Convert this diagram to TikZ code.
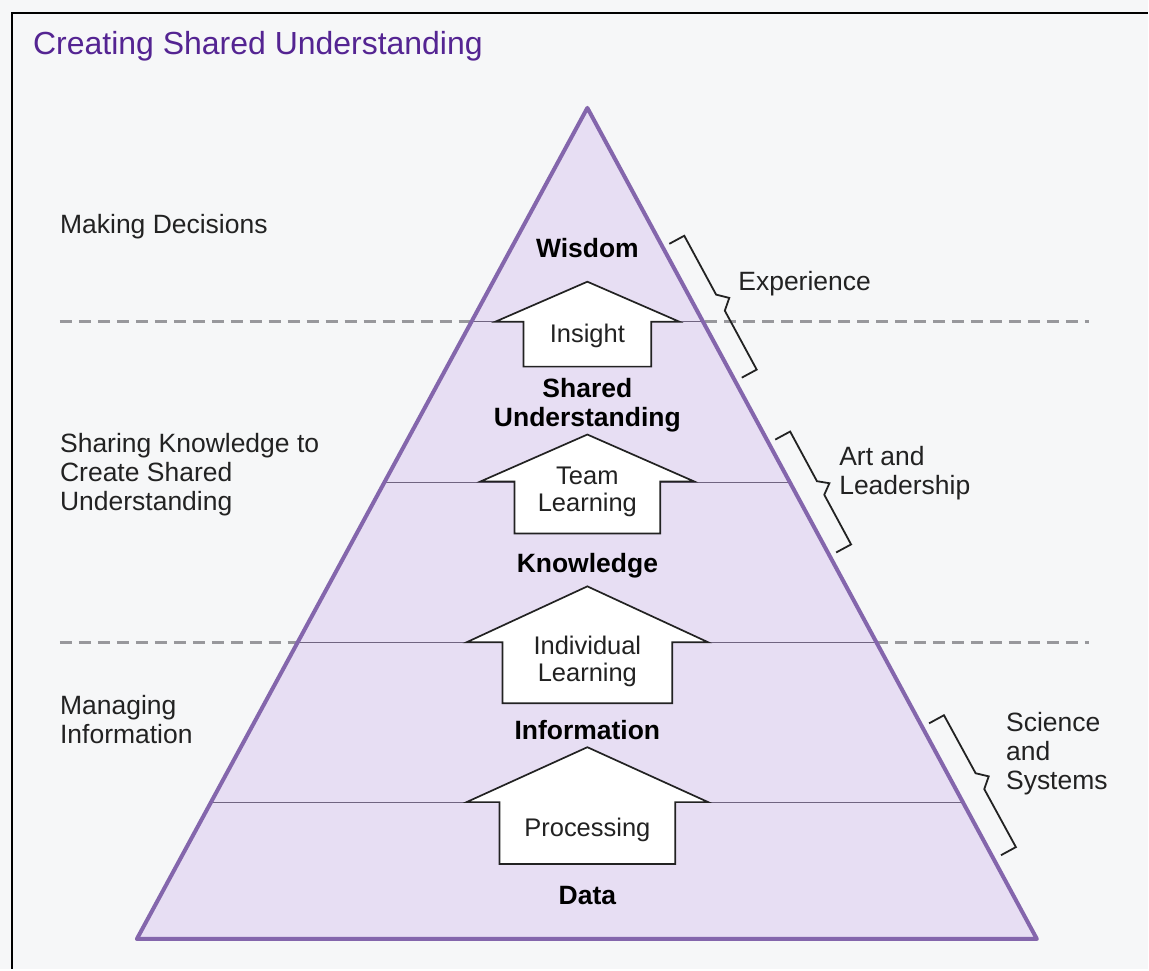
\documentclass[tikz,border=0pt]{standalone}
\usepackage{fontspec}
\setmainfont{Liberation Sans}
\usetikzlibrary{calc}

\definecolor{pagebg}{RGB}{246,247,248}
\definecolor{pyrfill}{RGB}{231,222,243}
\definecolor{pyredge}{RGB}{132,102,172}
\definecolor{titlepurple}{RGB}{84,36,146}
\definecolor{dashgray}{RGB}{152,152,156}
\definecolor{levelgray}{RGB}{112,100,128}
\definecolor{inkgray}{RGB}{34,34,34}

% bracket along the right edge of the pyramid
\newcommand{\edgebrace}[2]{%
  \draw[bracket] ($(#1)!17pt!-90:(#2)$) -- (#1) -- ($(#1)!0.44!(#2)$)
    -- ($(#1)!0.5!(#2)!10pt!90:(#2)$) -- ($(#1)!0.56!(#2)$) -- (#2)
    -- ($(#2)!17pt!90:(#1)$);}

\begin{document}
\begin{tikzpicture}[x=1pt,y=-1pt,
  side/.style={font=\fontsize{26.5}{29}\selectfont, text=inkgray, inner sep=0pt, align=left, anchor=base west},
  level/.style={font=\fontsize{26.5}{29}\selectfont\bfseries, text=black, inner sep=0pt, align=center, anchor=base},
  step text/.style={font=\fontsize{25.5}{27}\selectfont, text=inkgray, inner sep=0pt, align=center, anchor=base},
  uparrow/.style={draw=inkgray, fill=white, line width=1.7pt, line join=miter},
  bracket/.style={draw=inkgray, line width=1.8pt, line join=miter},
  dashline/.style={draw=dashgray, line width=3pt, dash pattern=on 12pt off 7pt},
  levelline/.style={draw=levelgray, line width=1.1pt}]

  \fill[pagebg] (0,0) rectangle (1149,970);
  \draw[line width=2.5pt] (12,970) -- (12,13) -- (1149,13);

  \node[font=\fontsize{32}{36}\selectfont, text=titlepurple, inner sep=0pt, anchor=base west] (title) at (33,55) {Creating Shared Understanding};

  \draw[dashline] (60,322) -- (1090,322);
  \draw[dashline] (60,643) -- (1090,643);

  \coordinate (apex) at (588,108);
  \coordinate (baseL) at (137,940);
  \coordinate (baseR) at (1038,940);
  \fill[pyrfill] (apex) -- (baseR) -- (baseL) -- cycle;

  \coordinate (l1) at ($(apex)!0.2572!(baseL)$);
  \coordinate (r1) at ($(apex)!0.2572!(baseR)$);
  \coordinate (l2) at ($(apex)!0.4507!(baseL)$);
  \coordinate (r2) at ($(apex)!0.4507!(baseR)$);
  \coordinate (l3) at ($(apex)!0.6430!(baseL)$);
  \coordinate (r3) at ($(apex)!0.6430!(baseR)$);
  \coordinate (l4) at ($(apex)!0.8353!(baseL)$);
  \coordinate (r4) at ($(apex)!0.8353!(baseR)$);
  \draw[levelline] (l1) -- (r1);
  \draw[levelline] (l2) -- (r2);
  \draw[levelline] (l3) -- (r3);
  \draw[levelline] (l4) -- (r4);

  \draw[draw=pyredge, line width=4pt, line join=round] (apex) -- (baseR) -- (baseL) -- cycle;

  % the four steps
  \draw[uparrow] (588,282) -- (680,322) -- (652,322) -- (652,367) -- (524,367) -- (524,322) -- (496,322) -- cycle;
  \draw[uparrow] (588,435) -- (695,482) -- (661,482) -- (661,534) -- (515,534) -- (515,482) -- (481,482) -- cycle;
  \draw[uparrow] (588,587) -- (709,643) -- (673,643) -- (673,704) -- (503,704) -- (503,643) -- (467,643) -- cycle;
  \draw[uparrow] (588,748) -- (709,803) -- (676,803) -- (676,865) -- (500,865) -- (500,803) -- (467,803) -- cycle;

  \node[step text] (insight) at (588,343) {Insight};
  \node[step text] (team) at (588,512) {Team\\Learning};
  \node[step text] (individual) at (588,682) {Individual\\Learning};
  \node[step text] (processing) at (588,837) {Processing};

  \node[level] (wisdom) at (588,258) {Wisdom};
  \node[level] (shared) at (588,427) {Shared\\Understanding};
  \node[level] (knowledge) at (588,573) {Knowledge};
  \node[level] (information) at (588,740) {Information};
  \node[level] (data) at (588,905) {Data};

  \node[side] (decisions) at (60,234) {Making Decisions};
  \node[side] (sharing) at (60,511) {Sharing Knowledge to\\Create Shared\\Understanding};
  \node[side] (managing) at (60,744) {Managing\\Information};

  \coordinate (expTop) at (685,236);
  \coordinate (expBot) at (757.5,370);
  \coordinate (artTop) at (791,432);
  \coordinate (artBot) at (852,545);
  \coordinate (sciTop) at (945,716);
  \coordinate (sciBot) at (1017,848);
  \edgebrace{expTop}{expBot}
  \edgebrace{artTop}{artBot}
  \edgebrace{sciTop}{sciBot}

  \node[side] (experience) at (739,291) {Experience};
  \node[side] (art) at (840,495) {Art and\\Leadership};
  \node[side] (science) at (1007,790) {Science\\and\\Systems};
\end{tikzpicture}
\end{document}
